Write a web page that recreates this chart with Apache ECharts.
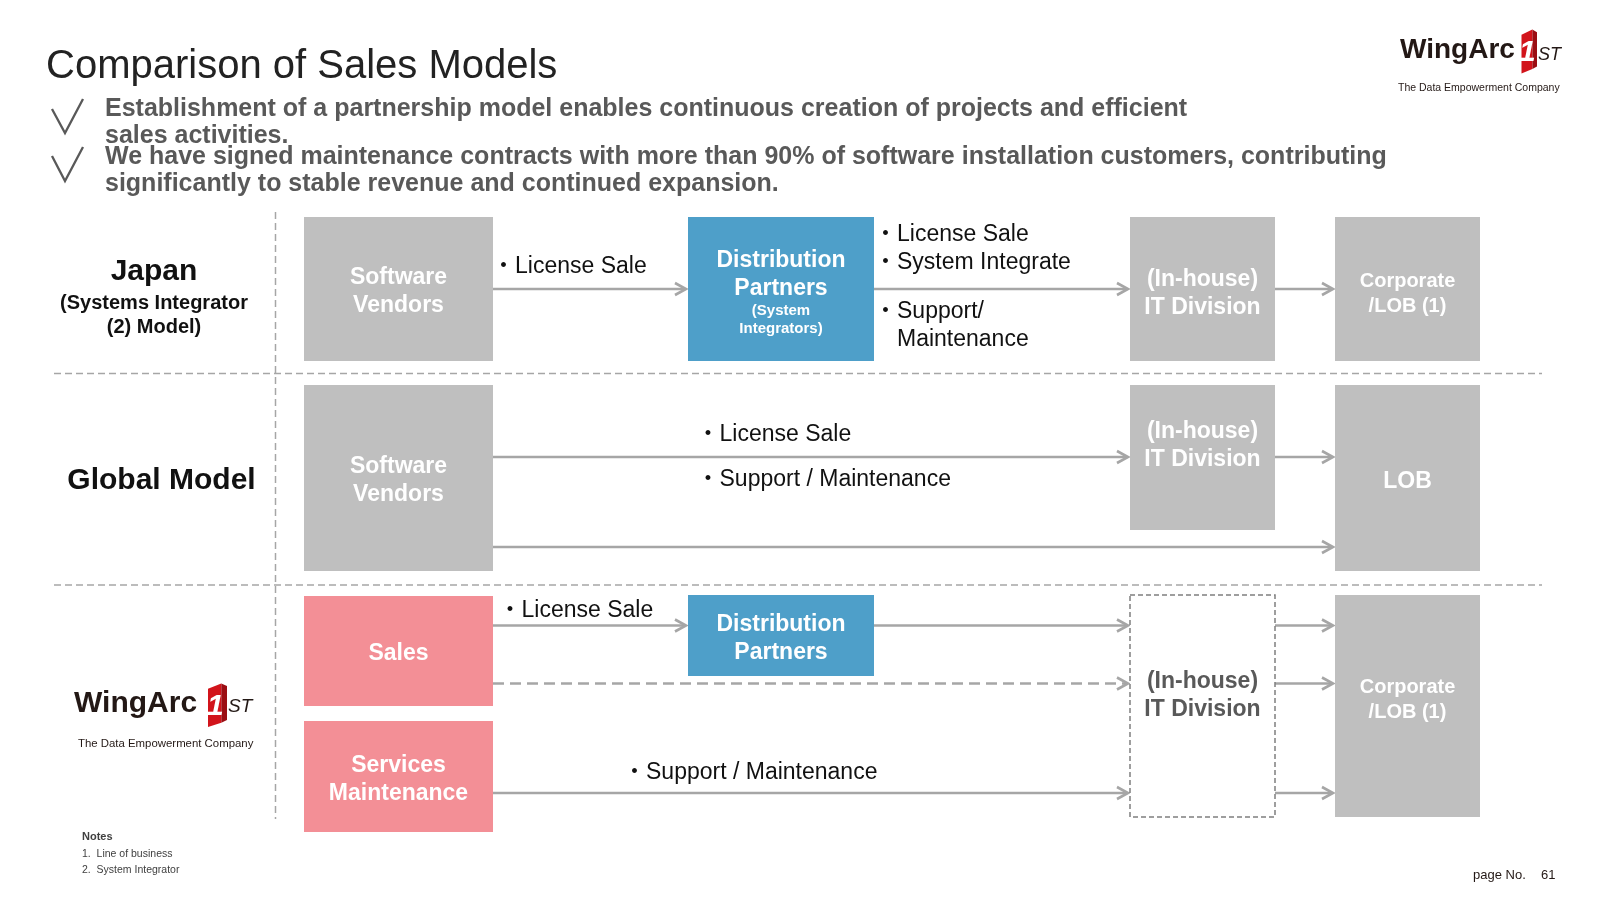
<!DOCTYPE html>
<html>
<head>
<meta charset="utf-8">
<script src="https://cdn.jsdelivr.net/npm/echarts@6.0.0/dist/echarts.min.js"></script>
<style>
html,body{margin:0;padding:0;background:#ffffff;}
#chart{width:1600px;height:900px;}
</style>
</head>
<body>
<div id="chart"></div>
<script>
const FONT = '"Liberation Sans", Arial, "Noto Sans CJK JP", sans-serif';

// ---------------- content ----------------
const headline = 'Comparison of Sales Models';
const keyPoints = [
  ['Establishment of a partnership model enables continuous creation of projects and efficient', 'sales activities.'],
  ['We have signed maintenance contracts with more than 90% of software installation customers, contributing', 'significantly to stable revenue and continued expansion.']
];
const sectionTitles = ['Japan', 'Global Model'];
const sectionSubtitle = '(Systems Integrator\n(2) Model)';
const nodeLabels = [
  'Software\nVendors', 'Distribution\nPartners', '(In-house)\nIT Division', 'Corporate\n/LOB (1)',
  'Software\nVendors', '(In-house)\nIT Division', 'LOB',
  'Sales', 'Services\nMaintenance', 'Distribution\nPartners', '(In-house)\nIT Division', 'Corporate\n/LOB (1)'
];
const nodeSubLabels = ['', '(System\nIntegrators)', '', '', '', '', '', '', '', '', '', ''];
const nodeKinds = [
  'vendor', 'partner', 'client', 'client',
  'vendor', 'client', 'client',
  'wingarc', 'wingarc', 'partner', 'inhouse', 'client'
];
const flowLinks = [[0,1],[1,2],[2,3],[4,5],[5,6],[4,6],[7,9],[9,10],[7,10],[8,10],[10,11],[10,11],[10,11]];
const flowDashed = [0,0,0,0,0,0,0,0,1,0,0,0,0];
const flowTexts = [
  '・License Sale',
  '・License Sale', '・System Integrate', '・Support/', 'Maintenance',
  '・License Sale', '・Support / Maintenance',
  '・License Sale', '・Support / Maintenance'
];
const notesTitle = 'Notes';
const notesLines = ['1.  Line of business', '2.  System Integrator'];
const pageLabel = 'page No.';
const pageNumber = '61';
const brandName = 'WingArc';
const brandDigit = '1';
const brandSuffix = 'ST';
const brandTagline = 'The Data Empowerment Company';

// ---------------- layout (units of the hidden axes) ----------------
const TY = 3; // optical shift of middle-aligned text
const nodeBoxes = [
  [304,217,493,361], [688,217,874,361], [1130,217,1275,361], [1335,217,1480,361],
  [304,385,493,571], [1130,385,1275,530], [1335,385,1480,571],
  [304,596,493,706], [304,721,493,832], [688,595,874,676], [1130,595,1275,817], [1335,595,1480,817]
];
const nodeTextY = [289, 272, 291, 291, 478, 443, 478.5, 651, 776.5, 635.5, 693, 697];
const nodeSubY  = [0, 318, 0, 0, 0, 0, 0, 0, 0, 0, 0, 0];
const nodeFont  = [23, 23, 23, 20, 23, 23, 23, 23, 23, 23, 23, 20];
const flowY = [289, 289, 289, 457, 457, 547, 625.5, 625.5, 683.5, 793, 625.5, 683.5, 793];
const flowTextPos = [
  [492, 264],
  [874, 231.6], [874, 260], [874, 309], [897, 337],
  [696.5, 431.6], [696.5, 476.5],
  [498.5, 608], [623, 770]
];
const separators = [[54, 373.5, 1542, 373.5], [54, 585, 1542, 585], [275.5, 212, 275.5, 819]];

const kindStyle = {
  vendor:  { fill: '#BFBFBF', text: '#FFFFFF' },
  client:  { fill: '#BFBFBF', text: '#FFFFFF' },
  partner: { fill: '#4E9FC9', text: '#FFFFFF' },
  wingarc: { fill: '#F38F96', text: '#FFFFFF' },
  inhouse: { fill: '#FFFFFF', text: '#595959', stroke: '#7F7F7F', dash: [5, 3] }
};
const ARROW = '#A6A6A6';

// ---------------- series data ----------------
const nodeData = nodeBoxes.map((b, i) => [b[0], b[1], b[2], b[3], nodeTextY[i], nodeSubY[i]]);
const flowData = flowLinks.map((l, i) => [nodeBoxes[l[0]][2], nodeBoxes[l[1]][0], flowY[i], flowDashed[i]]);
const flowTextData = flowTextPos.map(p => [p[0], p[1]]);

function renderSeparator(params, api) {
  const a = api.coord([api.value(0), api.value(1)]);
  const b = api.coord([api.value(2), api.value(3)]);
  return {
    type: 'line',
    shape: { x1: a[0], y1: a[1], x2: b[0], y2: b[1] },
    style: { stroke: '#A6A6A6', lineWidth: 1.5, lineDash: [7, 4], fill: 'none' }
  };
}

function renderNode(params, api) {
  const i = params.dataIndex;
  const p0 = api.coord([api.value(0), api.value(1)]);
  const p1 = api.coord([api.value(2), api.value(3)]);
  const ty = api.coord([0, api.value(4) + TY])[1];
  const cx = (p0[0] + p1[0]) / 2;
  const st = kindStyle[nodeKinds[i]];
  const rectStyle = { fill: st.fill };
  if (st.stroke) { rectStyle.stroke = st.stroke; rectStyle.lineWidth = 1.5; rectStyle.lineDash = st.dash; }
  const children = [
    { type: 'rect', shape: { x: p0[0], y: p0[1], width: p1[0] - p0[0], height: p1[1] - p0[1] }, style: rectStyle },
    { type: 'text', style: {
        text: nodeLabels[i], x: cx, y: ty, fill: st.text,
        font: 'bold ' + nodeFont[i] + 'px ' + FONT,
        textAlign: 'center', textVerticalAlign: 'middle', lineHeight: nodeFont[i] + 5 } }
  ];
  if (nodeSubLabels[i]) {
    const sy = api.coord([0, api.value(5) + 2])[1];
    children.push({ type: 'text', style: {
      text: nodeSubLabels[i], x: cx, y: sy, fill: st.text,
      font: 'bold 15px ' + FONT, textAlign: 'center', textVerticalAlign: 'middle', lineHeight: 18 } });
  }
  return { type: 'group', children: children };
}

function renderFlow(params, api) {
  const a = api.coord([api.value(0), api.value(2)]);
  const b = api.coord([api.value(1) - 2, api.value(2)]);
  const dashed = api.value(3) === 1;
  return {
    type: 'group',
    children: [
      { type: 'line', shape: { x1: a[0], y1: a[1], x2: b[0] - 1, y2: b[1] },
        style: { stroke: ARROW, lineWidth: 2.6, lineDash: dashed ? [11, 6] : null, fill: 'none' } },
      { type: 'polyline', shape: { points: [[b[0] - 11, b[1] - 6], [b[0], b[1]], [b[0] - 11, b[1] + 6]] },
        style: { stroke: ARROW, lineWidth: 2.6, fill: 'none' } }
    ]
  };
}

function renderFlowText(params, api) {
  const p = api.coord([api.value(0), api.value(1) + TY]);
  return { type: 'text', style: {
    text: flowTexts[params.dataIndex], x: p[0], y: p[1], fill: '#111111',
    font: '23px ' + FONT, textAlign: 'left', textVerticalAlign: 'middle' } };
}

// ---------------- decorations ----------------
// L: word-mark left, cap centre, size; red block box; suffix; tagline
function logo(L) {
  const w = L.rx1 - L.rx0, h = L.ry1 - L.ry0, mx = L.rx0 + 0.7 * w;
  return [
    { type: 'text', style: { text: brandName, x: L.wx, y: L.wy, font: 'bold ' + L.wf + 'px ' + FONT, fill: '#231815', textVerticalAlign: 'middle' } },
    { type: 'polygon', shape: { points: [[L.rx0, L.ry0 + 0.12 * h], [mx, L.ry0], [mx, L.ry1 - 0.1 * h], [L.rx0, L.ry1]] }, style: { fill: '#D2141B' } },
    { type: 'polygon', shape: { points: [[mx, L.ry0], [L.rx1, L.ry0 + 0.06 * h], [L.rx1, L.ry1 - 0.16 * h], [mx, L.ry1 - 0.1 * h]] }, style: { fill: '#9B0E13' } },
    { type: 'text', style: { text: brandDigit, x: L.rx0 + 0.38 * w, y: (L.ry0 + L.ry1) / 2 + 1, font: 'italic bold ' + Math.round(0.68 * h) + 'px ' + FONT, fill: '#FFFFFF', textAlign: 'center', textVerticalAlign: 'middle' } },
    { type: 'text', style: { text: brandSuffix, x: L.sx, y: L.sy, font: 'italic ' + L.sf + 'px ' + FONT, fill: '#231815', textVerticalAlign: 'middle' } },
    { type: 'text', style: { text: brandTagline, x: L.tx, y: L.ty, font: L.tf + 'px ' + FONT, fill: '#231815', textVerticalAlign: 'middle' } }
  ];
}
const logoTop = { wx: 1400, wy: 50, wf: 28, rx0: 1521.5, rx1: 1537, ry0: 29.5, ry1: 73.5, sx: 1538, sy: 54.5, sf: 18, tx: 1398, ty: 88.5, tf: 10.5 };
const logoLeft = { wx: 74, wy: 704, wf: 30, rx0: 208, rx1: 227, ry0: 683.5, ry1: 727, sx: 228, sy: 707, sf: 19, tx: 78, ty: 743.5, tf: 11.4 };

const checkMarks = [[[52, 109], [65, 133], [83, 99]], [[52, 156], [65, 181], [83, 147]]];

const graphics = [
  { type: 'text', style: { text: headline, x: 46, y: 64 + TY, font: '40px ' + FONT, fill: '#222222', textVerticalAlign: 'middle' } },
  { type: 'polyline', shape: { points: checkMarks[0] }, style: { stroke: '#595959', lineWidth: 2.3, fill: 'none' } },
  { type: 'polyline', shape: { points: checkMarks[1] }, style: { stroke: '#595959', lineWidth: 2.3, fill: 'none' } },
  { type: 'text', style: { text: keyPoints[0][0], x: 105, y: 106 + TY, font: 'bold 25px ' + FONT, fill: '#595959', textVerticalAlign: 'middle' } },
  { type: 'text', style: { text: keyPoints[0][1], x: 105, y: 133 + TY, font: 'bold 25px ' + FONT, fill: '#595959', textVerticalAlign: 'middle' } },
  { type: 'text', style: { text: keyPoints[1][0], x: 105, y: 154 + TY, font: 'bold 25px ' + FONT, fill: '#595959', textVerticalAlign: 'middle' } },
  { type: 'text', style: { text: keyPoints[1][1], x: 105, y: 181 + TY, font: 'bold 25px ' + FONT, fill: '#595959', textVerticalAlign: 'middle' } },
  { type: 'text', style: { text: sectionTitles[0], x: 154, y: 269 + TY, font: 'bold 30px ' + FONT, fill: '#111111', textAlign: 'center', textVerticalAlign: 'middle' } },
  { type: 'text', style: { text: sectionSubtitle, x: 154, y: 312 + TY, font: 'bold 20px ' + FONT, fill: '#111111', textAlign: 'center', textVerticalAlign: 'middle', lineHeight: 24 } },
  { type: 'text', style: { text: sectionTitles[1], x: 161.5, y: 478 + TY, font: 'bold 30px ' + FONT, fill: '#111111', textAlign: 'center', textVerticalAlign: 'middle' } },
  { type: 'text', style: { text: notesTitle, x: 82, y: 837, font: 'bold 11px ' + FONT, fill: '#404040', textVerticalAlign: 'middle' } },
  { type: 'text', style: { text: notesLines[0], x: 82, y: 854, font: '10.5px ' + FONT, fill: '#404040', textVerticalAlign: 'middle' } },
  { type: 'text', style: { text: notesLines[1], x: 82, y: 870, font: '10.5px ' + FONT, fill: '#404040', textVerticalAlign: 'middle' } },
  { type: 'text', style: { text: pageLabel, x: 1473, y: 875, font: '13px ' + FONT, fill: '#231815', textVerticalAlign: 'middle' } },
  { type: 'text', style: { text: pageNumber, x: 1541, y: 875, font: '13px ' + FONT, fill: '#231815', textVerticalAlign: 'middle' } }
].concat(logo(logoTop), logo(logoLeft));

const chart = echarts.init(document.getElementById('chart'), null, { renderer: 'canvas' });
chart.setOption({
  animation: false,
  backgroundColor: '#ffffff',
  grid: { left: 0, right: 0, top: 0, bottom: 0, containLabel: false },
  xAxis: { type: 'value', min: 0, max: 1600, show: false },
  yAxis: { type: 'value', min: 0, max: 900, inverse: true, show: false },
  graphic: graphics,
  series: [
    { type: 'custom', name: 'separators', coordinateSystem: 'cartesian2d', silent: true, clip: false, renderItem: renderSeparator, data: separators, z: 1 },
    { type: 'custom', name: 'flows', coordinateSystem: 'cartesian2d', silent: true, clip: false, renderItem: renderFlow, data: flowData, z: 2 },
    { type: 'custom', name: 'nodes', coordinateSystem: 'cartesian2d', silent: true, clip: false, renderItem: renderNode, data: nodeData, z: 3 },
    { type: 'custom', name: 'flowLabels', coordinateSystem: 'cartesian2d', silent: true, clip: false, renderItem: renderFlowText, data: flowTextData, z: 4 }
  ]
});
</script>
</body>
</html>
